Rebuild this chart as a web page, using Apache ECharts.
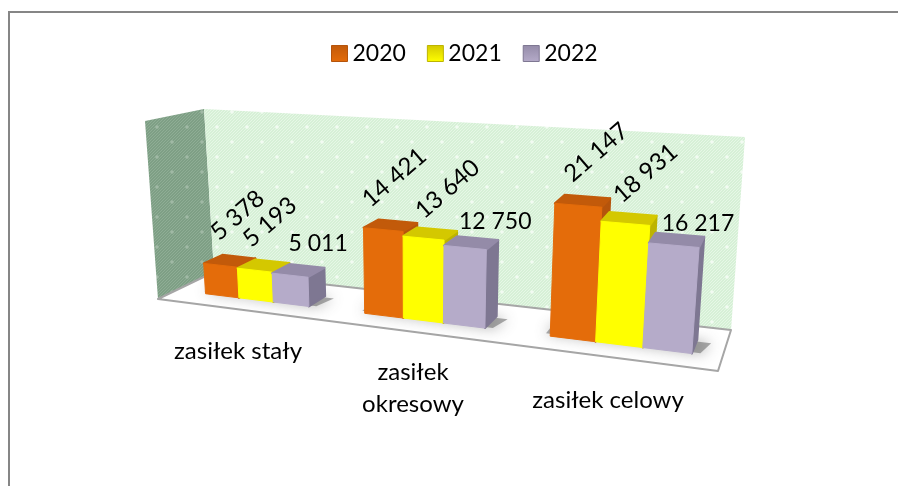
<!DOCTYPE html>
<html><head><meta charset="utf-8">
<style>html,body{margin:0;padding:0;background:#fff}#c{width:898px;height:486px}</style>
<script src="https://cdn.jsdelivr.net/npm/echarts@6/dist/echarts.min.js"></script>
</head><body><div id="c"></div>
<script>
const categories = ['zasiłek stały', 'zasiłek\nokresowy', 'zasiłek celowy'];
const seriesNames = ['2020', '2021', '2022'];
const values2020 = [5378, 14421, 21147];
const values2021 = [5193, 13640, 18931];
const values2022 = [5011, 12750, 16217];
const allValues = [values2020, values2021, values2022];

// layout and style
const FONT = 'Lato';
const Y_MAX = 31000;
const GRID = {left: 100, top: 100, width: 600, height: 300};
const U_SHIFT = 0.011, BAR_FRAC = 0.222, D0 = 0.31, D1 = 0.65;
const floorQuad = [[158,299],[718,371],[731,330],[214,272]];   // front-left, front-right, back-right, back-left
const topQuad   = [[145,121],[734,161],[745,137],[204,109]];
const faceColors = [
  {front:'#E46C0A', top:'#C25A0A', side:'#B5540C'},
  {front:'#FFFF00', top:'#D4C800', side:'#BDB400'},
  {front:'#B5ABC9', top:'#948BA8', side:'#7E7792'}
];
const labelOffsets = [
  [[17,-50],[15,-48],[28,-32]],
  [[11,-52],[24,-49],[30,-26]],
  [[18,-53],[20,-50],[24,-22]]
];
const labelRotated = [true, true, false];
const categoryLabelPos = [[238,351],[413,388],[608,400]];

function hom(q){
  const [p0,p1,p2,p3]=q;
  const sx=p0[0]-p1[0]+p2[0]-p3[0], sy=p0[1]-p1[1]+p2[1]-p3[1];
  const dx1=p1[0]-p2[0], dx2=p3[0]-p2[0], dy1=p1[1]-p2[1], dy2=p3[1]-p2[1];
  const det=dx1*dy2-dx2*dy1;
  const g=(sx*dy2-dx2*sy)/det, h=(dx1*sy-sx*dy1)/det;
  const a=p1[0]-p0[0]+g*p1[0], b=p3[0]-p0[0]+h*p3[0], c=p0[0];
  const d=p1[1]-p0[1]+g*p1[1], e=p3[1]-p0[1]+h*p3[1], f=p0[1];
  return (u,v)=>{const w=g*u+h*v+1;return [(a*u+b*v+c)/w,(d*u+e*v+f)/w];};
}
const floorH=hom(floorQuad), topH=hom(topQuad);
function P(u,d,z){
  const a=floorH(u,d), l=floorH(0,d), r=floorH(1,d);
  const s=(a[0]-l[0])/(r[0]-l[0]);
  const tl=topH(0,d), tr=topH(1,d);
  const b=[tl[0]+(tr[0]-tl[0])*s, tl[1]+(tr[1]-tl[1])*s];
  return [a[0]+(b[0]-a[0])*z, a[1]+(b[1]-a[1])*z];
}
const gu=x=>U_SHIFT+(x-GRID.left)/GRID.width;
const gz=y=>(GRID.top+GRID.height-y)/GRID.height;

function makePattern(base, line, dot){
  const c=document.createElement('canvas'); c.width=c.height=30;
  const x=c.getContext('2d');
  x.fillStyle=base; x.fillRect(0,0,30,30);
  x.strokeStyle=line; x.lineWidth=1;
  for(let i=-30;i<60;i+=3){x.beginPath();x.moveTo(i,30);x.lineTo(i+30,0);x.stroke();}
  x.fillStyle=dot;
  [[7,7],[22,22]].forEach(p=>{x.beginPath();x.arc(p[0],p[1],1.8,0,7);x.fill();});
  return c;
}
const backFill={image:makePattern('#D6F0D6','#E6F7E6','#F2FBF2'),repeat:'repeat'};
const sideFill={image:makePattern('#7E9F85','#8FAD95','#A0B9A5'),repeat:'repeat'};
const poly=(pts,fill,extra)=>({type:'polygon',shape:{points:pts},style:Object.assign({fill:fill,stroke:fill,lineWidth:2,lineJoin:'round'},extra||{})});

const grad=(c1,c2)=>new echarts.graphic.LinearGradient(0,0,0,1,[{offset:0,color:c1},{offset:1,color:c2}]);

const roomSeries={
  type:'custom',name:'room',coordinateSystem:'cartesian2d',silent:true,
  data:[[0,0]],encode:{x:0,y:1},
  renderItem(){
    return {type:'group',children:[
      poly([P(0,0,1),P(0,1,1),P(0,1,0),P(0,0,0)],sideFill,{stroke:'none',lineWidth:0}),
      poly([P(0,1,1),P(1,1,1),P(1,1,0),P(0,1,0)],backFill,{stroke:'none',lineWidth:0}),
      poly([P(0,0,0),P(1,0,0),P(1,1,0),P(0,1,0)],'#FFFFFF',{stroke:'#A6A6A6',lineWidth:2})
    ]};
  }
};
const shadowSeries={
  type:'custom',name:'shadow',coordinateSystem:'cartesian2d',silent:true,
  data:categories.map((c,i)=>[i,0]),encode:{x:0,y:1},
  renderItem(params,api){
    const c=api.coord([api.value(0),0]), bw=api.size([1,0])[0];
    const uc=gu(c[0]), w=gu(c[0]+bw)-uc, hw=BAR_FRAC*w*1.5;
    return {type:'polygon',shape:{points:[P(uc-hw-0.01,D0+0.06,0),P(uc+hw+0.012,D0+0.03,0),P(uc+hw+0.022,D1-0.04,0),P(uc-hw-0.01,D1-0.04,0)]},
      style:{fill:'rgba(90,90,90,0.5)',shadowBlur:14,shadowColor:'rgba(70,70,70,0.9)'}};
  }
};
const barSeries=seriesNames.map((name,s)=>({
  type:'custom',name:name,coordinateSystem:'cartesian2d',
  itemStyle:{color:faceColors[s].front,borderColor:faceColors[s].side},
  data:allValues[s].map((v,i)=>[i,v]),encode:{x:0,y:1},
  renderItem(params,api){
    const cat=api.value(0), val=api.value(1);
    const base=api.coord([cat,0]), tip=api.coord([cat,val]);
    const bw=api.size([1,0])[0];
    const cx=base[0]+(s-1)*BAR_FRAC*bw;
    const u0=gu(cx-BAR_FRAC*bw/2), u1=gu(cx+BAR_FRAC*bw/2), z=gz(tip[1]);
    const fc=faceColors[s];
    const fbl=P(u0,D0,0),fbr=P(u1,D0,0),ftr=P(u1,D0,z),ftl=P(u0,D0,z);
    const bbr=P(u1,D1,0),btr=P(u1,D1,z),btl=P(u0,D1,z);
    const topC=[(ftl[0]+ftr[0])/2,(ftl[1]+ftr[1])/2];
    const off=labelOffsets[cat][s];
    const txt=String(val).replace(/\B(?=(\d{3})+$)/g,' ');
    return {type:'group',children:[
      poly([fbr,bbr,btr,ftr],fc.side),
      poly([ftl,ftr,btr,btl],fc.top),
      poly([fbl,fbr,ftr,ftl],fc.front,{lineWidth:1}),
      {type:'text',x:topC[0]+off[0],y:topC[1]+off[1],rotation:labelRotated[s]?41*Math.PI/180:0,z2:100,
       style:{text:txt,fontFamily:FONT,fontSize:labelRotated[s]?24:23,fill:'#000',align:'center',verticalAlign:'middle'}}
    ]};
  }
}));
const categorySeries={
  type:'custom',name:'categories',coordinateSystem:'cartesian2d',silent:true,
  data:categories.map((c,i)=>[i,0]),encode:{x:0,y:1},
  renderItem(params,api){
    const i=api.value(0), p=categoryLabelPos[i];
    return {type:'text',x:p[0],y:p[1],z2:100,style:{text:categories[i],fontFamily:FONT,fontSize:24,lineHeight:32,fill:'#000',align:'center',verticalAlign:'middle'}};
  }
};

const chart=echarts.init(document.getElementById('c'),null,{renderer:'canvas'});
chart.setOption({
  animation:false,
  backgroundColor:'#fff',
  grid:GRID,
  tooltip:{show:false},
  xAxis:{type:'category',data:categories,show:false},
  yAxis:{type:'value',min:0,max:Y_MAX,show:false},
  legend:{
    left:326,top:37,itemWidth:16,itemHeight:16,itemGap:21,icon:'rect',
    textStyle:{fontFamily:FONT,fontSize:23,color:'#000'},
    data:seriesNames.map((n,s)=>({name:n,itemStyle:{color:grad(faceColors[s].top,faceColors[s].front),borderColor:faceColors[s].side,borderWidth:1}}))
  },
  graphic:[
    {type:'rect',shape:{x:8,y:11,width:890,height:2},style:{fill:'#868686'},silent:true},
    {type:'rect',shape:{x:8,y:11,width:2,height:475},style:{fill:'#868686'},silent:true}
  ],
  series:[roomSeries,shadowSeries].concat(barSeries,[categorySeries])
});
</script></body></html>
